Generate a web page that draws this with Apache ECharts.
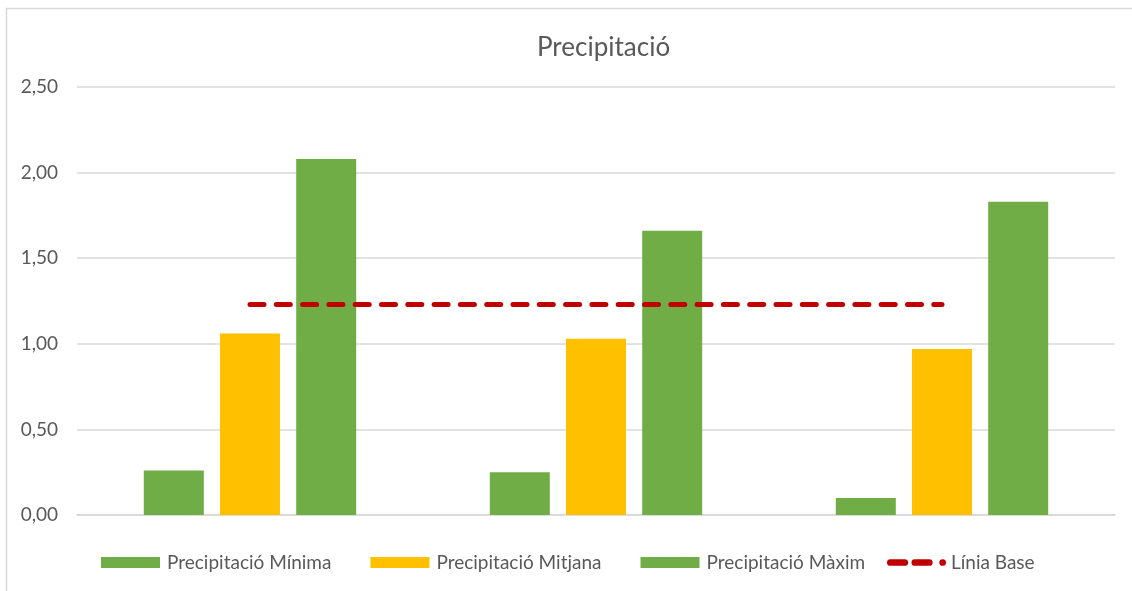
<!DOCTYPE html>
<html><head><meta charset="utf-8">
<script src="https://cdn.jsdelivr.net/npm/echarts@6/dist/echarts.min.js"></script>
<style>html,body{margin:0;padding:0;background:#fff}#c{width:1132px;height:591px}</style>
</head><body><div id="c"></div>
<script>
var categories = ['1', '2', '3'];
var minValues = [0.26, 0.25, 0.10];
var meanValues = [1.06, 1.03, 0.97];
var maxValues = [2.08, 1.66, 1.83];
var baseLine = [1.23, 1.23, 1.23];
var yTicks = [0, 0.5, 1, 1.5, 2, 2.5];

var font = 'Lato, "Open Sans", sans-serif';
var legendText = {color:'#595959', fontSize:19, fontFamily:font, padding:[0,0,0,2]};
var chart = echarts.init(document.getElementById('c'));
chart.setOption({
  animation: false,
  backgroundColor: '#fff',
  graphic: [{type:'rect', shape:{x:6.5,y:8.5,width:1140,height:600}, style:{fill:null, stroke:'#d9d9d9', lineWidth:1.5}, silent:true}],
  title: {text:'Precipitació', left:537, top:35, padding:0, textStyle:{color:'#595959', fontSize:26, fontWeight:'normal', fontFamily:font}},
  grid: {left:77, right:17, top:87, bottom:76, containLabel:false},
  legend: [{
    top:553, left:101, itemWidth:59, itemHeight:11, itemGap:39, padding:0,
    textStyle:legendText,
    data:[
      {name:'Precipitació Mínima', icon:'rect'},
      {name:'Precipitació Mitjana', icon:'rect'},
      {name:'Precipitació Màxim', icon:'rect'}
    ]
  },{
    top:553, left:887, itemWidth:59, itemHeight:7, padding:0,
    textStyle:{color:'#595959', fontSize:19, fontFamily:font, padding:[0,0,0,0]},
    data:[{name:'Línia Base', icon:'path://M3,0h13a3,3 0 0 1 0,6h-13a3,3 0 0 1 0,-6z M25,0h13a3,3 0 0 1 0,6h-13a3,3 0 0 1 0,-6z M50,0h0a3,3 0 0 1 0,6h0a3,3 0 0 1 0,-6z'}]
  }],
  xAxis: {type:'category', data:categories, axisTick:{show:false}, axisLabel:{show:false},
    axisLine:{lineStyle:{color:'#d9d9d9', width:1.5}}},
  yAxis: {type:'value', min:yTicks[0], max:yTicks[yTicks.length-1], interval:0.5,
    axisLine:{show:false}, axisTick:{show:false},
    axisLabel:{color:'#595959', fontSize:19, fontFamily:font, margin:19,
      formatter:function(v){return v.toFixed(2).replace('.', ',');}},
    splitLine:{lineStyle:{color:'#d9d9d9', width:1.5}}},
  series: [
    {name:'Precipitació Mínima', type:'bar', data:minValues, barWidth:60, barGap:'27%', itemStyle:{color:'#70AD47'}},
    {name:'Precipitació Mitjana', type:'bar', data:meanValues, barWidth:60, barGap:'27%', itemStyle:{color:'#FFC000'}},
    {name:'Precipitació Màxim', type:'bar', data:maxValues, barWidth:60, barGap:'27%', itemStyle:{color:'#70AD47'}},
    {name:'Línia Base', type:'line', data:baseLine, symbol:'none', z:5,
      itemStyle:{color:'#C00000'},
      lineStyle:{color:'#C00000', width:5, type:[14,12.3], cap:'round'}}
  ]
});
</script></body></html>
